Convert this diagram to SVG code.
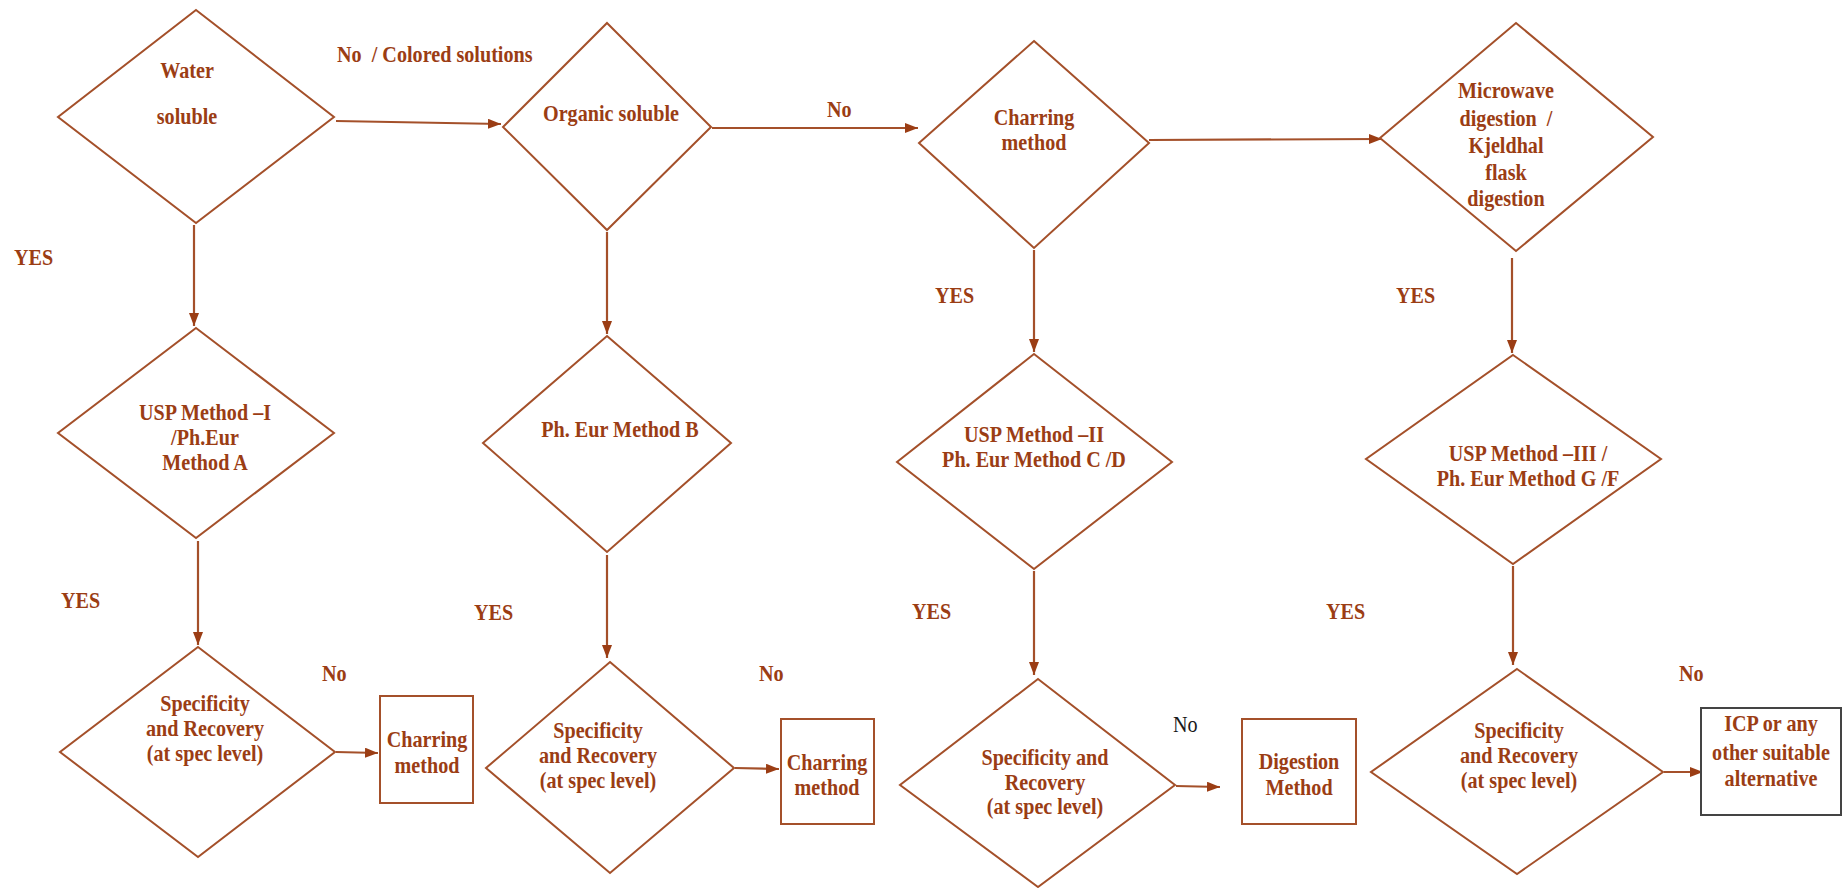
<svg xmlns="http://www.w3.org/2000/svg" width="1846" height="888" viewBox="0 0 1846 888">
<style>
.shape{fill:#fff;stroke:#a4502a;stroke-width:2}
.box{fill:#fff;stroke:#a4502a;stroke-width:2}
.box2{fill:#fff;stroke:#444;stroke-width:2}
.t{font-family:"Liberation Serif","Times New Roman",serif;font-weight:bold;font-size:24px;fill:#9b3d14;text-anchor:middle}
.l{font-family:"Liberation Serif","Times New Roman",serif;font-weight:bold;font-size:24px;fill:#9b3d14}
.k{font-family:"Liberation Serif","Times New Roman",serif;font-weight:normal;font-size:24px;fill:#1a1a1a}
.c{stroke:#a4502a;stroke-width:2.2;fill:none;marker-end:url(#ah)}
</style>
<defs>
<marker id="ah" markerUnits="userSpaceOnUse" markerWidth="14" markerHeight="11" refX="13" refY="5" orient="auto">
<path d="M0,0 L13,5 L0,10 z" fill="#9b3d14"/>
</marker>
</defs>
<rect width="1846" height="888" fill="#fff"/>

<g id="connectors">
<line class="c" x1="336" y1="121" x2="501" y2="124"/>
<line class="c" x1="712" y1="128" x2="918" y2="128"/>
<line class="c" x1="1149" y1="140" x2="1382" y2="139"/>
<line class="c" x1="194" y1="225" x2="194" y2="326"/>
<line class="c" x1="607" y1="232" x2="607" y2="334"/>
<line class="c" x1="1034" y1="250" x2="1034" y2="352"/>
<line class="c" x1="1512" y1="258" x2="1512" y2="353"/>
<line class="c" x1="198" y1="541" x2="198" y2="645"/>
<line class="c" x1="607" y1="555" x2="607" y2="658"/>
<line class="c" x1="1034" y1="571" x2="1034" y2="675"/>
<line class="c" x1="1513" y1="566" x2="1513" y2="665"/>
<line class="c" x1="336" y1="752" x2="378" y2="753"/>
<line class="c" x1="735" y1="768" x2="779" y2="769"/>
<line class="c" x1="1176" y1="786" x2="1220" y2="787"/>
<line class="c" x1="1664" y1="772" x2="1703" y2="772"/>
<text class="l" transform="translate(337,62) scale(0.84,1)">No&#160; / Colored solutions</text>
<text class="l" transform="translate(827,117) scale(0.84,1)">No</text>
<text class="l" transform="translate(322,681) scale(0.84,1)">No</text>
<text class="l" transform="translate(759,681) scale(0.84,1)">No</text>
<text class="k" transform="translate(1173,732) scale(0.84,1)">No</text>
<text class="l" transform="translate(1679,681) scale(0.84,1)">No</text>
<text class="l" transform="translate(14,265) scale(0.84,1)">YES</text>
<text class="l" transform="translate(61,608) scale(0.84,1)">YES</text>
<text class="l" transform="translate(474,620) scale(0.84,1)">YES</text>
<text class="l" transform="translate(935,303) scale(0.84,1)">YES</text>
<text class="l" transform="translate(912,619) scale(0.84,1)">YES</text>
<text class="l" transform="translate(1396,303) scale(0.84,1)">YES</text>
<text class="l" transform="translate(1326,619) scale(0.84,1)">YES</text>
</g>

<g id="water">
<polygon class="shape" points="196,10 334,117 196,223 58,117"/>
<text class="t" transform="translate(187,0) scale(0.84,1)"><tspan x="0" y="78">Water</tspan><tspan x="0" y="124">soluble</tspan></text>
</g>
<g id="organic">
<polygon class="shape" points="607,23 711,127 607,230 503,127"/>
<text class="t" transform="translate(611,0) scale(0.84,1)"><tspan x="0" y="121">Organic soluble</tspan></text>
</g>
<g id="charring">
<polygon class="shape" points="1034,41 1149,143 1034,248 919,143"/>
<text class="t" transform="translate(1034,0) scale(0.84,1)"><tspan x="0" y="125">Charring</tspan><tspan x="0" y="150">method</tspan></text>
</g>
<g id="microwave">
<polygon class="shape" points="1516,23 1653,137 1516,251 1380,138"/>
<text class="t" transform="translate(1506,0) scale(0.84,1)"><tspan x="0" y="98">Microwave</tspan><tspan x="0" y="126">digestion&#160; /</tspan><tspan x="0" y="153">Kjeldhal</tspan><tspan x="0" y="180">flask</tspan><tspan x="0" y="206">digestion</tspan></text>
</g>

<g id="usp1">
<polygon class="shape" points="196,328 334,433 196,538 58,433"/>
<text class="t" transform="translate(205,0) scale(0.84,1)"><tspan x="0" y="420">USP Method –I</tspan><tspan x="0" y="445">/Ph.Eur</tspan><tspan x="0" y="470">Method A</tspan></text>
</g>
<g id="pheurb">
<polygon class="shape" points="607,336 731,443 607,552 483,443"/>
<text class="t" transform="translate(620,0) scale(0.84,1)"><tspan x="0" y="437">Ph. Eur Method B</tspan></text>
</g>
<g id="usp2">
<polygon class="shape" points="1034,354 1172,462 1034,569 897,462"/>
<text class="t" transform="translate(1034,0) scale(0.84,1)"><tspan x="0" y="442">USP Method –II</tspan><tspan x="0" y="467">Ph. Eur Method C /D</tspan></text>
</g>
<g id="usp3">
<polygon class="shape" points="1513,355 1661,459 1513,564 1366,459"/>
<text class="t" transform="translate(1528,0) scale(0.84,1)"><tspan x="0" y="461">USP Method –III /</tspan><tspan x="0" y="486">Ph. Eur Method G /F</tspan></text>
</g>

<g id="spec1">
<polygon class="shape" points="198,647 335,752 198,857 60,752"/>
<text class="t" transform="translate(205,0) scale(0.84,1)"><tspan x="0" y="711">Specificity</tspan><tspan x="0" y="736">and Recovery</tspan><tspan x="0" y="761">(at spec level)</tspan></text>
</g>
<g id="charring1">
<rect class="box" x="380" y="696" width="93" height="107"/>
<text class="t" transform="translate(427,0) scale(0.84,1)"><tspan x="0" y="747">Charring</tspan><tspan x="0" y="773">method</tspan></text>
</g>
<g id="spec2">
<polygon class="shape" points="610,662 734,768 610,873 486,768"/>
<text class="t" transform="translate(598,0) scale(0.84,1)"><tspan x="0" y="738">Specificity</tspan><tspan x="0" y="763">and Recovery</tspan><tspan x="0" y="788">(at spec level)</tspan></text>
</g>
<g id="charring2">
<rect class="box" x="781" y="719" width="93" height="105"/>
<text class="t" transform="translate(827,0) scale(0.84,1)"><tspan x="0" y="770">Charring</tspan><tspan x="0" y="795">method</tspan></text>
</g>
<g id="spec3">
<polygon class="shape" points="1038,679 1175,785 1038,887 900,785"/>
<text class="t" transform="translate(1045,0) scale(0.84,1)"><tspan x="0" y="765">Specificity and</tspan><tspan x="0" y="790">Recovery</tspan><tspan x="0" y="814">(at spec level)</tspan></text>
</g>
<g id="digestion">
<rect class="box" x="1242" y="719" width="114" height="105"/>
<text class="t" transform="translate(1299,0) scale(0.84,1)"><tspan x="0" y="769">Digestion</tspan><tspan x="0" y="795">Method</tspan></text>
</g>
<g id="spec4">
<polygon class="shape" points="1517,669 1663,772 1517,874 1371,772"/>
<text class="t" transform="translate(1519,0) scale(0.84,1)"><tspan x="0" y="738">Specificity</tspan><tspan x="0" y="763">and Recovery</tspan><tspan x="0" y="788">(at spec level)</tspan></text>
</g>
<g id="icp">
<rect class="box2" x="1701" y="708" width="140" height="107"/>
<text class="t" transform="translate(1771,0) scale(0.84,1)"><tspan x="0" y="731">ICP or any</tspan><tspan x="0" y="760">other suitable</tspan><tspan x="0" y="786">alternative</tspan></text>
</g>
</svg>
